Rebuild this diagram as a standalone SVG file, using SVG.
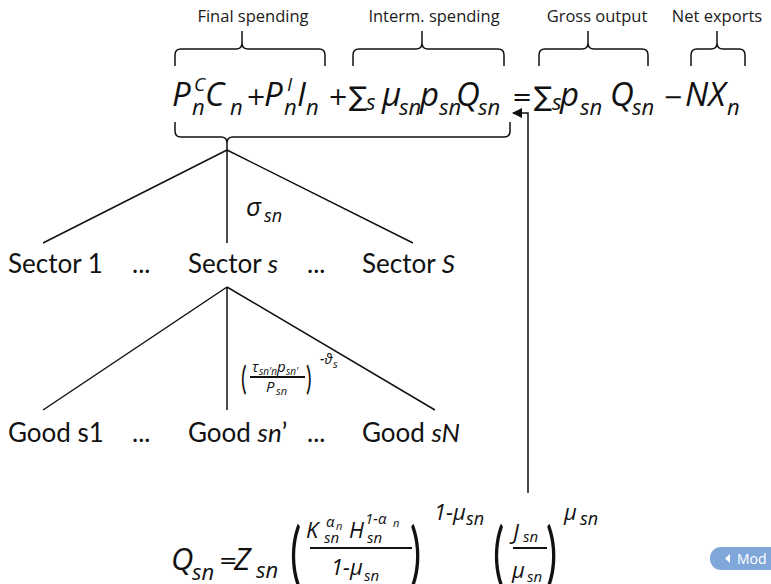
<svg xmlns="http://www.w3.org/2000/svg" width="771" height="584" viewBox="0 0 771 584">
<style>
  .lbl{font-family:"Open Sans","Noto Sans",sans-serif;font-size:16.5px;fill:#1a1a1a}
  .t{font-family:Lato,"Open Sans",sans-serif;font-size:26px;fill:#111}
  .m{font-family:"Open Sans","Noto Sans",sans-serif;font-style:italic;fill:#111}
  .par{font-family:Lato,"Open Sans",sans-serif;fill:#111}
  .op{font-family:"DejaVu Sans",sans-serif;fill:#111}
  .ln{stroke:#111;stroke-width:1.5;fill:none}
  .bar{stroke:#111;stroke-width:2}
</style>
<defs>
  <marker id="ah" viewBox="0 0 10 10" refX="9" refY="5" markerWidth="10" markerHeight="10" markerUnits="userSpaceOnUse" orient="auto">
    <path d="M0,0 L10,5 L0,10 z" fill="#111"/>
  </marker>
</defs>
<rect width="771" height="584" fill="#fff"/>

<g id="labels">
  <text class="lbl" x="253" y="22" text-anchor="middle">Final spending</text>
  <text class="lbl" x="434" y="22" text-anchor="middle">Interm. spending</text>
  <text class="lbl" x="597" y="22" text-anchor="middle">Gross output</text>
  <text class="lbl" x="717" y="22" text-anchor="middle">Net exports</text>
</g>

<g id="braces" class="ln">
  <path d="M175,66 V55 Q175,49 181,49 H236 Q242,49 242,43 V31 V43 Q242,49 248,49 H319 Q325,49 325,55 V66"/>
  <path d="M353,66 V55 Q353,49 359,49 H416 Q422,49 422,43 V31 V43 Q422,49 428,49 H498 Q504,49 504,55 V66"/>
  <path d="M539,66 V55 Q539,49 545,49 H582 Q588,49 588,43 V31 V43 Q588,49 594,49 H642 Q648,49 648,55 V66"/>
  <path d="M691,66 V55 Q691,49 697,49 H711 Q717,49 717,43 V31 V43 Q717,49 723,49 H739 Q745,49 745,55 V66"/>
  <path d="M175,122 V131 Q175,137 181,137 H221 Q227,137 227,143 V150 V143 Q227,137 233,137 H504 Q510,137 510,131 V122"/>
</g>

<g id="equation">
  <text class="m" font-size="33" x="172" y="106">P</text>
  <text class="m" font-size="19" x="194" y="91">C</text>
  <text class="m" font-size="22" x="192" y="115">n</text>
  <text class="m" font-size="33" x="205" y="106">C</text>
  <text class="m" font-size="22" x="230" y="115">n</text>
  <text class="op" font-size="24" x="246" y="105">+</text>
  <text class="m" font-size="33" x="264" y="106">P</text>
  <text class="m" font-size="19" x="287" y="91">I</text>
  <text class="m" font-size="22" x="284" y="115">n</text>
  <text class="m" font-size="33" x="297" y="106">I</text>
  <text class="m" font-size="22" x="306" y="115">n</text>
  <text class="op" font-size="24" x="328" y="105">+</text>
  <text class="op" font-size="27" x="349" y="106">∑</text>
  <text class="m" font-size="22" x="366" y="110">s</text>
  <text class="m" font-size="33" x="382" y="106">μ</text>
  <text class="m" font-size="22" x="399" y="115">sn</text>
  <text class="m" font-size="33" x="420" y="106">p</text>
  <text class="m" font-size="22" x="439" y="115">sn</text>
  <text class="m" font-size="33" x="456" y="106">Q</text>
  <text class="m" font-size="22" x="478" y="115">sn</text>
  <text class="op" font-size="24" x="512" y="105">=</text>
  <text class="op" font-size="27" x="534" y="106">∑</text>
  <text class="m" font-size="22" x="552" y="110">s</text>
  <text class="m" font-size="33" x="560" y="106">p</text>
  <text class="m" font-size="22" x="580" y="115">sn</text>
  <text class="m" font-size="33" x="610" y="106">Q</text>
  <text class="m" font-size="22" x="632" y="115">sn</text>
  <text class="op" font-size="24" x="663" y="105">−</text>
  <text class="m" font-size="33" x="685" y="106">NX</text>
  <text class="m" font-size="22" x="727" y="115">n</text>
</g>

<g id="connectors" class="ln">
  <path d="M227,150 L43,243 M227,150 L227,243 M227,150 L413,243"/>
  <path d="M227,287 L43,410 M227,287 L227,410 M227,287 L435,410"/>
  <path d="M528,493 V113 H513" marker-end="url(#ah)"/>
</g>

<g id="sigma-label">
  <text class="m" font-size="26" x="246" y="216">σ</text>
  <text class="m" font-size="18" x="264" y="222">sn</text>
</g>

<g id="sector-1"><text class="t" x="8" y="273">Sector 1</text></g>
<g id="dots-1"><text class="t" x="132" y="273">...</text></g>
<g id="sector-s"><text class="t" x="188" y="273">Sector <tspan font-style="italic">s</tspan></text></g>
<g id="dots-2"><text class="t" x="307" y="273">...</text></g>
<g id="sector-S"><text class="t" x="362" y="273">Sector <tspan font-style="italic">S</tspan></text></g>

<g id="price-ratio">
  <text class="par" font-size="30" transform="translate(241,390) scale(0.7,1.1)">(</text>
  <text class="m" font-size="15" x="252" y="372">τ</text>
  <text class="m" font-size="10" x="259" y="375">sn'n</text>
  <text class="m" font-size="15" x="277" y="372">p</text>
  <text class="m" font-size="10" x="286" y="375">sn'</text>
  <line class="bar" x1="250" y1="377" x2="305" y2="377"/>
  <text class="m" font-size="15" x="266" y="392">P</text>
  <text class="m" font-size="11" x="276" y="395">sn</text>
  <text class="par" font-size="30" transform="translate(306,390) scale(0.7,1.1)">)</text>
  <text class="m" font-size="14" x="320" y="364">-ϑ</text>
  <text class="m" font-size="11" x="333" y="368">s</text>
</g>

<g id="good-s1"><text class="t" x="8" y="442">Good s1</text></g>
<g id="dots-3"><text class="t" x="132" y="442">...</text></g>
<g id="good-sn"><text class="t" x="188" y="442">Good <tspan font-style="italic">sn</tspan>’</text></g>
<g id="dots-4"><text class="t" x="307" y="442">...</text></g>
<g id="good-sN"><text class="t" x="362" y="442">Good <tspan font-style="italic">sN</tspan></text></g>

<g id="production">
  <text class="m" font-size="31" x="171" y="570">Q</text>
  <text class="m" font-size="22" x="192" y="580">sn</text>
  <text class="op" font-size="22" x="219" y="568">=</text>
  <text class="m" font-size="31" x="234" y="570">Z</text>
  <text class="m" font-size="22" x="256" y="578">sn</text>
  <text class="par" font-size="60" transform="translate(290,578) scale(0.7,1.15)">(</text>
  <text class="m" font-size="22" x="306" y="538">K</text>
  <text class="m" font-size="15" x="326" y="527">α</text>
  <text class="m" font-size="11" x="336" y="530">n</text>
  <text class="m" font-size="15" x="324" y="543">sn</text>
  <text class="m" font-size="22" x="349" y="538">H</text>
  <text class="m" font-size="15" x="365" y="524">1-α</text>
  <text class="m" font-size="11" x="393" y="527">n</text>
  <text class="m" font-size="15" x="367" y="543">sn</text>
  <line class="bar" x1="310" y1="548" x2="412" y2="548"/>
  <text class="m" font-size="22" x="331" y="575">1-μ</text>
  <text class="m" font-size="15" x="364" y="581">sn</text>
  <text class="par" font-size="60" transform="translate(410,578) scale(0.7,1.15)">)</text>
  <text class="m" font-size="22" x="434" y="520">1-μ</text>
  <text class="m" font-size="18" x="466" y="525">sn</text>
  <text class="par" font-size="60" transform="translate(493,578) scale(0.7,1.15)">(</text>
  <text class="m" font-size="22" x="513" y="540">J</text>
  <text class="m" font-size="15" x="523" y="542">sn</text>
  <line class="bar" x1="513" y1="548" x2="547" y2="548"/>
  <text class="m" font-size="22" x="512" y="578">μ</text>
  <text class="m" font-size="15" x="527" y="582">sn</text>
  <text class="par" font-size="60" transform="translate(546,578) scale(0.7,1.15)">)</text>
  <text class="m" font-size="22" x="564" y="520">μ</text>
  <text class="m" font-size="18" x="580" y="525">sn</text>
</g>

<g id="mod-button">
  <rect x="710" y="547" width="80" height="23" rx="11" fill="#7fa7d9"/>
  <path d="M730,554 L725,558.5 L730,563 z" fill="#fff"/>
  <text x="737" y="564" font-family="Open Sans, sans-serif" font-size="14" fill="#fff">Mod</text>
</g>
</svg>
